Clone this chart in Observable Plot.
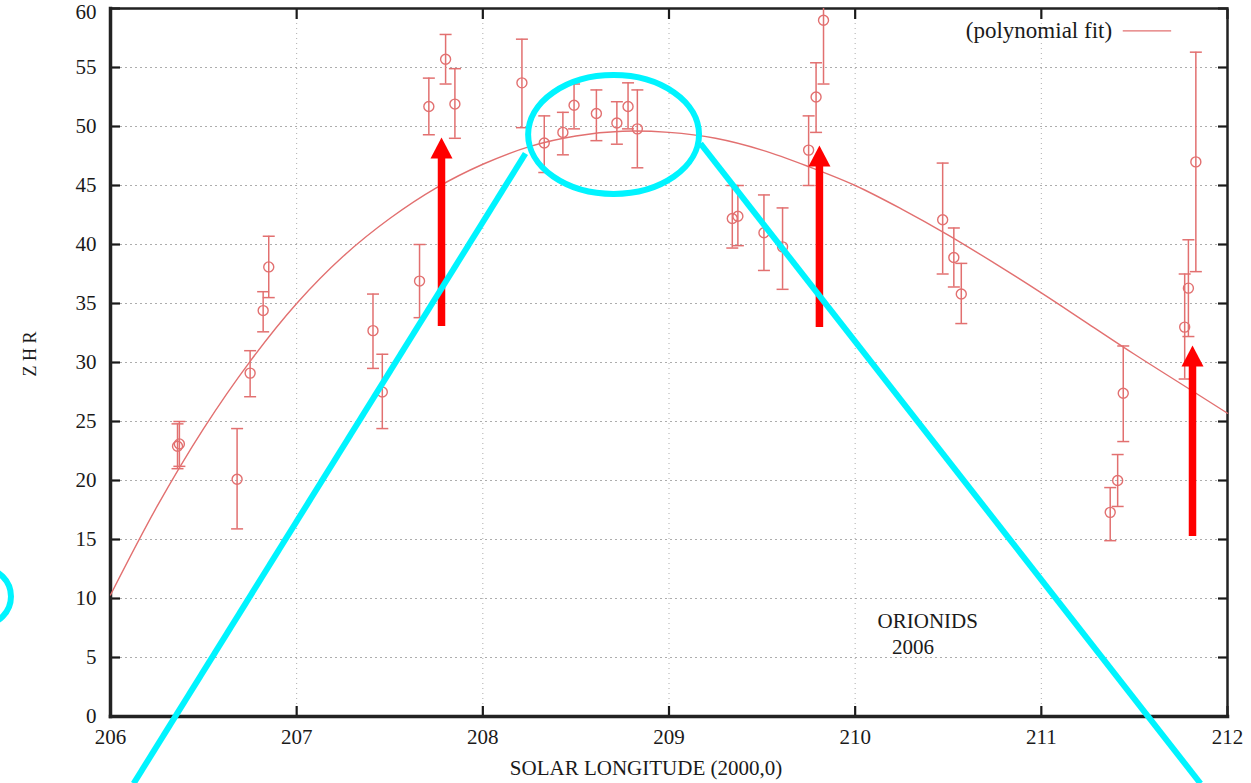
<!DOCTYPE html>
<html>
<head>
<meta charset="utf-8">
<script src="https://cdn.jsdelivr.net/npm/d3@7"></script>
<script src="https://cdn.jsdelivr.net/npm/@observablehq/plot@0.6"></script>
<style>
  html, body { margin: 0; padding: 0; background: #fff; }
  #chart svg { display: block; }
  #chart svg, #chart svg text { font-family: "Liberation Serif", "DejaVu Serif", serif !important; }
</style>
</head>
<body>
<div id="chart"></div>
<script>
// ---- Data ----
const lon  = [206.36,206.37,206.68,206.75,206.82,206.85,207.41,207.46,207.66,207.71,207.80,207.85,208.21,208.33,208.43,208.49,208.61,208.72,208.78,208.83,209.34,209.37,209.51,209.61,209.75,209.79,209.83,210.47,210.53,210.57,211.37,211.41,211.44,211.77,211.79,211.83];
const zhr  = [22.9,23.1,20.1,29.1,34.4,38.1,32.7,27.5,36.9,51.7,55.7,51.9,53.7,48.6,49.5,51.8,51.1,50.3,51.7,49.8,42.2,42.4,41.0,39.8,48.0,52.5,59.0,42.1,38.9,35.8,17.3,20.0,27.4,33.0,36.3,47.0];
const errLo = [21.0,21.2,15.9,27.1,32.6,35.5,29.5,24.4,33.8,49.3,53.6,49.0,49.9,46.1,47.6,49.8,48.8,48.5,49.8,46.5,39.7,39.9,37.8,36.2,45.0,49.5,53.6,37.5,36.4,33.3,14.9,17.8,23.3,28.6,32.2,37.7];
const errHi = [24.8,25.0,24.4,31.0,36.0,40.7,35.8,30.7,40.0,54.1,57.8,54.9,57.4,50.9,51.2,53.6,53.1,52.1,53.7,53.1,45.0,45.0,44.2,43.1,50.9,55.4,64.4,46.9,41.4,38.4,19.4,22.2,31.4,37.5,40.4,56.3];

// polynomial fit curve
const fitLon = [206.00,206.25,206.50,206.75,207.00,207.25,207.50,207.75,208.00,208.25,208.50,208.75,209.00,209.25,209.50,209.75,210.00,210.25,210.50,210.75,211.00,211.25,211.50,211.75,212.00];
const fitZhr = [10.3,17.8,24.4,30.1,35.0,39.0,42.2,44.8,46.8,48.3,49.2,49.6,49.5,49.0,48.0,46.6,45.0,43.0,40.8,38.4,35.9,33.3,30.7,28.2,25.7];

const xTicks = [206,207,208,209,210,211,212];
const yTicks = [0,5,10,15,20,25,30,35,40,45,50,55,60];

// hand-drawn annotations (data coordinates)
const arrowX    = [207.778, 209.808, 211.812];
const arrowTail = [33.05, 32.97, 15.25];
const arrowTip  = [49.07, 48.39, 31.44];

const cyanLines = [
  {x1: 208.229, y1: 47.71, x2: 206.124, y2: -5.68},
  {x1: 209.169, y1: 48.56, x2: 211.855, y2: -5.68}
];
const cyanEllipse = {x: 208.705, y: 49.28, rx: 0.459, ry: 5.04};
const cyanCircle = [{x: 205.315, y: 10.17}];

const labelText = ["ORIONIDS", "2006"];
const labelX = [210.39, 210.31];
const labelY = [8.05, 5.85];

const legendLabel = "(polynomial fit)";
const legendX = [211.38, 211.44, 211.70];
const legendY = 58.1;

// ---- Build tables ----
const points = lon.map((x, i) => ({x, y: zhr[i], lo: errLo[i], hi: errHi[i]}));
const fit = fitLon.map((x, i) => ({x, y: fitZhr[i]}));
const arrows = arrowX.map((x, i) => ({x, tail: arrowTail[i], tip: arrowTip[i]}));
const labels = labelText.map((t, i) => ({t, x: labelX[i], y: labelY[i]}));
const yTop = yTicks[yTicks.length - 1];
const yRest = yTicks.slice(0, -1);

const RED = "#e27070";
const INK = "#1a1a1a";
const FONT = "Liberation Serif, DejaVu Serif, serif";
const capSymbol = {draw(ctx) { ctx.moveTo(-6, 0); ctx.lineTo(6, 0); }};
const headSymbol = {draw(ctx) { ctx.moveTo(0, 0); ctx.lineTo(11, 21); ctx.lineTo(-11, 21); ctx.closePath(); }};

const ellipseMark = (index, scales) => {
  const cx = scales.x(cyanEllipse.x), cy = scales.y(cyanEllipse.y);
  const rx = Math.abs(scales.x(cyanEllipse.x + cyanEllipse.rx) - cx);
  const ry = Math.abs(scales.y(cyanEllipse.y + cyanEllipse.ry) - cy);
  const e = d3.create("svg:ellipse")
    .attr("cx", cx).attr("cy", cy).attr("rx", rx).attr("ry", ry)
    .attr("fill", "none").attr("stroke", "#00f4ff").attr("stroke-width", 6);
  return e.node();
};

const chart = Plot.plot({
  width: 1251,
  height: 783,
  marginLeft: 110,
  marginRight: 24,
  marginTop: 8,
  marginBottom: 67,
  x: {domain: [206, 212]},
  y: {domain: [0, 60]},
  style: {fontFamily: FONT, fontSize: "21px", color: INK, background: "#fff", overflow: "visible"},
  marks: [
    Plot.gridY(yTicks, {stroke: "#999", strokeOpacity: 0.8, strokeDasharray: "2,3"}),
    Plot.gridX(xTicks, {stroke: "#999", strokeOpacity: 0.8, strokeDasharray: "1,4"}),
    // tick labels
    Plot.axisY(yRest, {anchor: "left", tickSize: 0, tickPadding: 14, label: null, fontSize: 21, tickFormat: "d", fill: INK}),
    Plot.axisY([yTop], {anchor: "left", tickSize: 0, tickPadding: 14, label: null, fontSize: 21, tickFormat: "d", fill: INK, dy: 4}),
    Plot.axisX(xTicks, {anchor: "bottom", tickSize: 0, tickPadding: 13, label: null, fontSize: 21, tickFormat: "d", fill: INK}),
    // inward ticks
    Plot.axisY(yTicks, {anchor: "left", tickSize: -10, tickFormat: () => "", label: null, strokeWidth: 2.2}),
    Plot.axisY(yTicks, {anchor: "right", tickSize: -10, tickFormat: () => "", label: null, strokeWidth: 2.2}),
    Plot.axisX(xTicks, {anchor: "bottom", tickSize: -10, tickFormat: () => "", label: null, strokeWidth: 2.2}),
    Plot.axisX(xTicks, {anchor: "top", tickSize: -10, tickFormat: () => "", label: null, strokeWidth: 2.2}),
    Plot.frame({stroke: "#222", strokeWidth: 2.5}),
    Plot.frame({anchor: "left", stroke: "#222", strokeWidth: 3.5}),
    Plot.frame({anchor: "bottom", stroke: "#222", strokeWidth: 3.5}),
    // axis titles
    Plot.text(["Z H R"], {frameAnchor: "left", dx: -80, dy: 14, rotate: -90, fontSize: 18, fill: INK}),
    Plot.text(["SOLAR LONGITUDE (2000,0)"], {frameAnchor: "bottom", dx: -23, dy: 58, fontSize: 21, fill: INK}),
    // fit curve
    Plot.line(fit, {x: "x", y: "y", curve: "catmull-rom", stroke: RED, strokeWidth: 1.4}),
    // error bars
    Plot.ruleX(points, {x: "x", y1: "lo", y2: "hi", stroke: RED, strokeWidth: 1.5, clip: true}),
    Plot.dot(points.filter(d => d.hi <= 60), {x: "x", y: "hi", symbol: capSymbol, fill: "none", stroke: RED, strokeWidth: 1.5}),
    Plot.dot(points, {x: "x", y: "lo", symbol: capSymbol, fill: "none", stroke: RED, strokeWidth: 1.5}),
    Plot.dot(points, {x: "x", y: "y", r: 5, fill: "none", stroke: RED, strokeWidth: 1.4}),
    // legend
    Plot.text([legendLabel], {x: legendX[0], y: legendY, textAnchor: "end", fontSize: 23, fill: INK}),
    Plot.ruleY([legendY], {x1: legendX[1], x2: legendX[2], stroke: RED, strokeWidth: 1.4}),
    // in-plot label
    Plot.text(labels, {x: "x", y: "y", text: "t", fontSize: 21, fill: INK}),
    // red arrows
    Plot.ruleX(arrows, {x: "x", y1: "tip", y2: "tail", insetTop: 14, stroke: "#ff0000", strokeWidth: 7.5}),
    Plot.dot(arrows, {x: "x", y: "tip", symbol: headSymbol, fill: "#ff0000", stroke: "none"}),
    // cyan annotations
    Plot.link(cyanLines, {x1: "x1", y1: "y1", x2: "x2", y2: "y2", stroke: "#00f4ff", strokeWidth: 6}),
    ellipseMark,
    Plot.dot(cyanCircle, {x: "x", y: "y", r: 28, fill: "none", stroke: "#00f4ff", strokeWidth: 6})
  ]
});
document.getElementById("chart").appendChild(chart);
</script>
</body>
</html>
